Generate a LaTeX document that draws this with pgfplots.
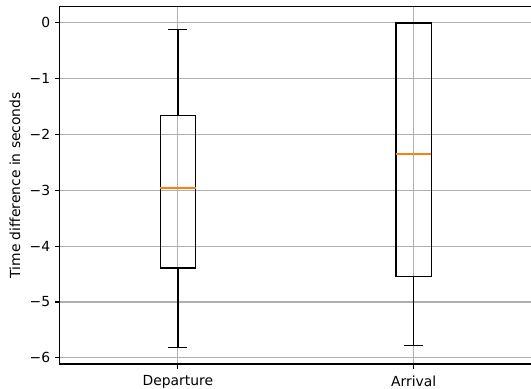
\documentclass[border=0pt]{standalone}
\usepackage{fontspec}
\setmainfont{DejaVu Sans}
\usepackage{pgfplots}
\pgfplotsset{compat=1.18}
\usetikzlibrary{calc}
\definecolor{mplorange}{HTML}{FF7F0E}
\definecolor{gridgray}{HTML}{B0B0B0}
\begin{document}
\begin{tikzpicture}
\begin{axis}[
  scale only axis,
  width=340pt, height=257.5pt,
  xmin=0.5, xmax=2.5,
  ymin=-6.111, ymax=0.291,
  xtick={1,2}, xticklabels={Departure,Arrival},
  ytick={-6,-5,-4,-3,-2,-1,0},
  yticklabels={−6,−5,−4,−3,−2,−1,0},
  tick label style={font=\fontsize{10}{12}\selectfont},
  xticklabel style={yshift=-1.5pt},
  ylabel={Time difference in seconds},
  ylabel style={font=\fontsize{10}{12}\selectfont},
  grid=major,
  major grid style={gridgray, line width=0.8pt},
  axis line style={black, line width=0.8pt},
  tick align=outside,
  major tick length=3.5pt,
  tick style={black, line width=0.8pt},
  xtick pos=left, ytick pos=left,
  unbounded coords=jump,
  every axis plot/.append style={line width=0.9pt, line cap=rect, line join=miter, mark=none},
]
% Departure: box (Q1=-4.39, Q3=-1.66), median -2.96, whiskers -5.82 / -0.12
\addplot[black] coordinates {(0.925,-4.39) (1.075,-4.39) (1.075,-1.66) (0.925,-1.66) (0.925,-4.39)};
\addplot[black] coordinates {(1,-1.66) (1,-0.12) (1,nan) (0.9625,-0.12) (1.0375,-0.12) (1,nan)
  (1,-4.39) (1,-5.82) (1,nan) (0.9625,-5.82) (1.0375,-5.82)};
\addplot[mplorange, line cap=butt] coordinates {(0.925,-2.96) (1.075,-2.96)};
% Arrival: box (Q1=-4.54, Q3=0), median -2.35, whiskers -5.78 / 0
\addplot[black] coordinates {(1.925,-4.54) (2.075,-4.54) (2.075,0) (1.925,0) (1.925,-4.54)};
\addplot[black] coordinates {(2,0) (2,0) (2,nan) (1.9625,0) (2.0375,0) (2,nan)
  (2,-4.54) (2,-5.78) (2,nan) (1.9625,-5.78) (2.0375,-5.78)};
\addplot[mplorange, line cap=butt] coordinates {(1.925,-2.35) (2.075,-2.35)};
\end{axis}
\pgfresetboundingbox
\path[use as bounding box] ($(current axis.south west)+(-43.2pt,-17.6pt)$) rectangle ($(current axis.north east)+(-0.5pt,4.8pt)$);
\end{tikzpicture}
\end{document}
